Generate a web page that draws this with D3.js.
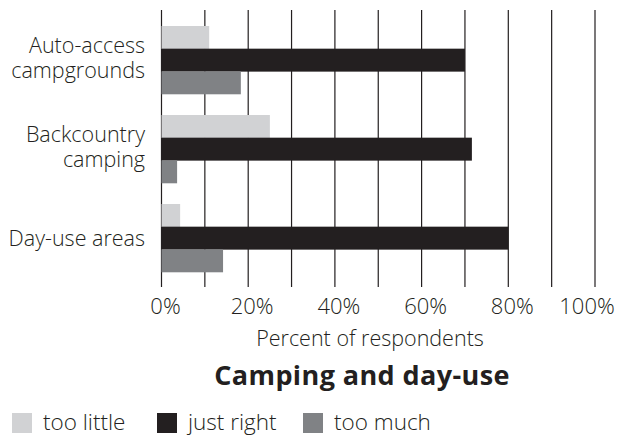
<!DOCTYPE html>
<html>
<head>
<meta charset="utf-8">
<script src="https://cdn.jsdelivr.net/npm/d3@7"></script>
<style>
  html, body { margin: 0; padding: 0; background: #fff; }
  svg { display: block; }
  .light { font-family: "Open Sans", sans-serif; font-weight: 300; fill: #231f20; }
  .title { font-family: "Open Sans", sans-serif; font-weight: 700; fill: #231f20; }
</style>
</head>
<body>
<svg id="chart" width="621" height="438"></svg>
<script>
const categories = [["Auto-access", "campgrounds"], ["Backcountry", "camping"], ["Day-use areas"]];
const seriesNames = ["too little", "just right", "too much"];
const tooLittle = [11, 25, 4.3];
const justRight = [70, 71.6, 80];
const tooMuch = [18.3, 3.6, 14.2];
const gridTicks = [0, 10, 20, 30, 40, 50, 60, 70, 80, 90, 100];
const labelTicks = [0, 20, 40, 60, 80, 100];
const colors = ["#d1d2d4", "#231f20", "#808285"];

const series = [tooLittle, justRight, tooMuch];
const svg = d3.select("#chart");

const x = d3.scaleLinear().domain([0, 100]).range([161.5, 595]);
const y = d3.scaleBand().domain(d3.range(categories.length)).range([15.5, 282.5])
  .paddingInner(0.236).paddingOuter(0.118);
const ySub = d3.scaleBand().domain(d3.range(seriesNames.length)).range([0, y.bandwidth()]).padding(0);

// gridlines
svg.append("g").selectAll("line").data(gridTicks).join("line")
  .attr("x1", d => x(d)).attr("x2", d => x(d))
  .attr("y1", 10).attr("y2", 287)
  .attr("stroke", "#231f20").attr("stroke-width", 1.2);

// bars
const groups = svg.append("g").selectAll("g").data(categories).join("g")
  .attr("transform", (d, i) => `translate(0,${y(i)})`);
groups.selectAll("rect").data((d, i) => series.map((s, j) => ({ j, v: s[i] }))).join("rect")
  .attr("x", x(0))
  .attr("y", d => ySub(d.j))
  .attr("width", d => x(d.v) - x(0))
  .attr("height", ySub.bandwidth() + 0.3)
  .attr("fill", d => colors[d.j]);

// category labels
groups.append("text").attr("class", "light")
  .attr("text-anchor", "end").attr("font-size", 21.5)
  .selectAll("tspan").data(d => d.map((line, k) => ({ line, k, n: d.length }))).join("tspan")
  .attr("x", 145)
  .attr("y", d => y.bandwidth() / 2 + 8 + (d.n > 1 ? (d.k - (d.n - 1) / 2) * 25 - 2 : 0))
  .text(d => d.line);

// tick labels
svg.append("g").selectAll("text").data(labelTicks).join("text").attr("class", "light")
  .attr("x", d => x(d)).attr("dx", d => d === 100 ? -8 : 4)
  .attr("y", 314).attr("text-anchor", "middle").attr("font-size", 22)
  .text(d => d + "%");

svg.append("text").attr("class", "light").attr("x", 370).attr("y", 346)
  .attr("text-anchor", "middle").attr("font-size", 21.5).text("Percent of respondents");

svg.append("text").attr("class", "title").attr("x", 362).attr("y", 385)
  .attr("text-anchor", "middle").attr("font-size", 27).attr("letter-spacing", 0.4)
  .text("Camping and day-use");

// legend
const legendX = [12, 157, 303];
const leg = svg.append("g").selectAll("g").data(seriesNames).join("g")
  .attr("transform", (d, i) => `translate(${legendX[i]},413)`);
leg.append("rect").attr("width", 20).attr("height", 20).attr("fill", (d, i) => colors[i]);
leg.append("text").attr("class", "light").attr("x", 31).attr("y", 17).attr("font-size", 22.5).text(d => d);
</script>
</body>
</html>
